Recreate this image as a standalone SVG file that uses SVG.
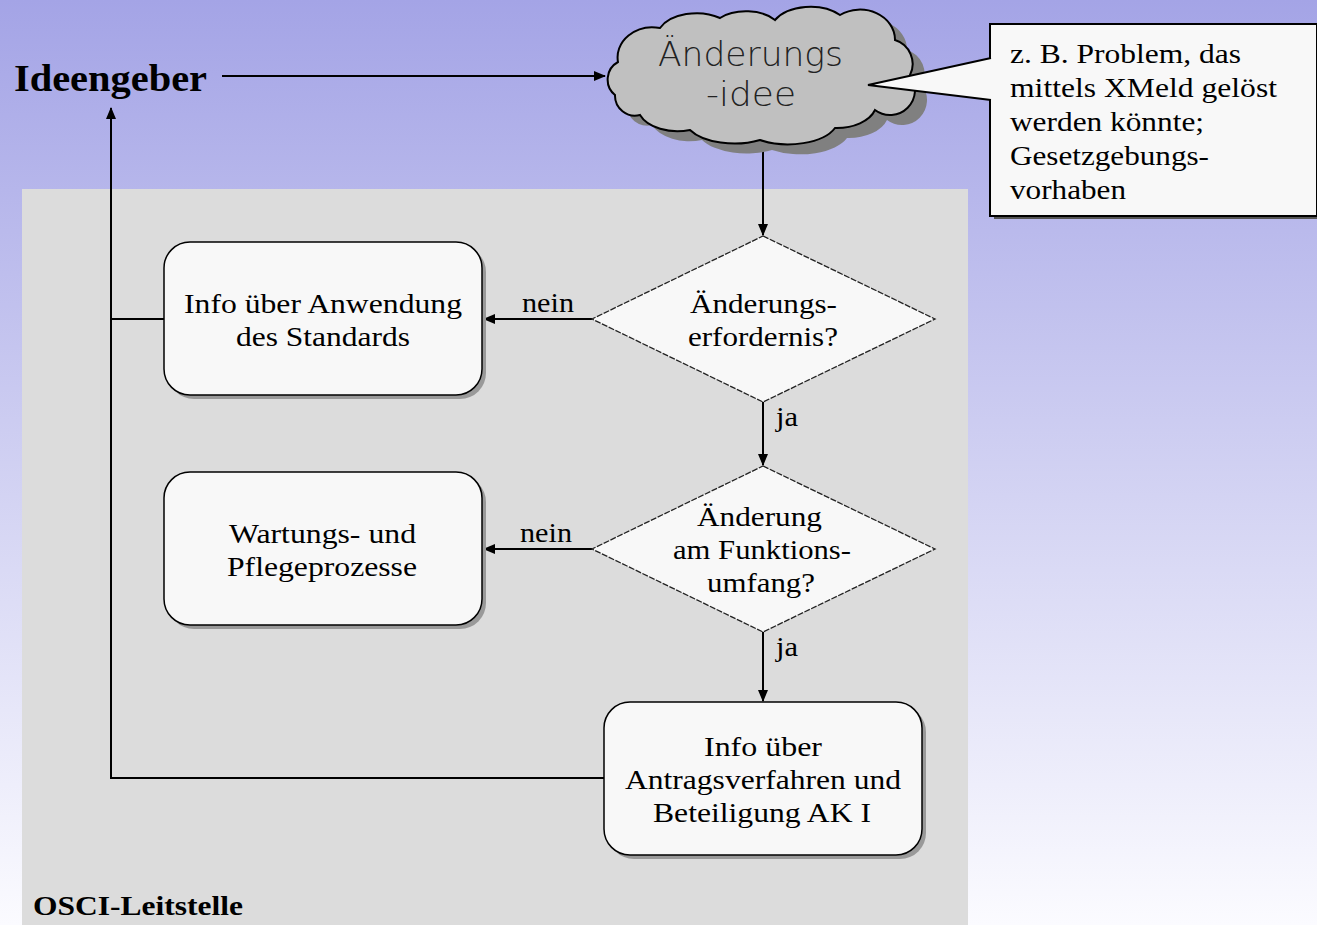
<svg xmlns="http://www.w3.org/2000/svg" width="1317" height="925" viewBox="0 0 1317 925">
<defs>
<linearGradient id="bg" x1="0" y1="0" x2="0" y2="1">
<stop offset="0" stop-color="#a4a4e6"/>
<stop offset="0.5" stop-color="#d0d0f2"/>
<stop offset="1" stop-color="#fbfbff"/>
</linearGradient>
<marker id="ah" markerWidth="12" markerHeight="12" refX="11" refY="6" orient="auto" markerUnits="userSpaceOnUse">
<path d="M0,1 L12,6 L0,11 Z" fill="#000"/>
</marker>
<path id="cloudp" d="M615,95 A20,20 0 0 1 618,62 A35,30 0 0 1 660,28 A40,25 0 0 1 720,18 A35,20 0 0 1 775,20 A40,25 0 0 1 840,15 A35,30 0 0 1 895,40 A25,25 0 0 1 910,75 A25,25 0 0 1 875,110 A40,25 0 0 1 835,128 A50,25 0 0 1 760,140 A50,25 0 0 1 690,130 A40,25 0 0 1 640,115 A20,20 0 0 1 615,95 Z"/>
</defs>
<style>
.box{fill:#f8f8f8;stroke:#000;stroke-width:1.5}
.shadow{fill:#999}
.dia{fill:#f8f8f8;stroke:#222;stroke-width:1.3;stroke-dasharray:6 1.5}
.t{font-family:"Liberation Serif","Times New Roman",serif;font-size:28px;fill:#000}
.c{text-anchor:middle}
.ln{stroke:#000;stroke-width:2;fill:none}
</style>
<rect x="0" y="0" width="1317" height="925" fill="url(#bg)"/>
<rect id="panel" x="22" y="189" width="946" height="736" fill="#dcdcdc"/>

<g id="connectors">
<line class="ln" x1="222" y1="76" x2="605" y2="76" marker-end="url(#ah)"/>
<line class="ln" x1="763" y1="140" x2="763" y2="235" marker-end="url(#ah)"/>
<line class="ln" x1="592" y1="319" x2="484" y2="319" marker-end="url(#ah)"/>
<line class="ln" x1="763" y1="402" x2="763" y2="465" marker-end="url(#ah)"/>
<line class="ln" x1="592" y1="549" x2="484" y2="549" marker-end="url(#ah)"/>
<line class="ln" x1="763" y1="632" x2="763" y2="701" marker-end="url(#ah)"/>
<line class="ln" x1="164" y1="319" x2="111" y2="319"/>
<polyline class="ln" points="604,778 111,778 111,108" marker-end="url(#ah)"/>
<text class="t" x="522" y="312" textLength="52" lengthAdjust="spacingAndGlyphs">nein</text>
<text class="t" x="520" y="542" textLength="52" lengthAdjust="spacingAndGlyphs">nein</text>
<text class="t" x="776" y="426" textLength="22" lengthAdjust="spacingAndGlyphs">ja</text>
<text class="t" x="776" y="656" textLength="22" lengthAdjust="spacingAndGlyphs">ja</text>
</g>

<g id="ideengeber">
<text x="14" y="91" font-family="Liberation Serif,serif" font-weight="bold" font-size="38" fill="#000" textLength="193" lengthAdjust="spacingAndGlyphs">Ideengeber</text>
</g>

<g id="cloud">
<use href="#cloudp" transform="translate(12,10)" fill="#808080"/>
<use href="#cloudp" fill="#c0c0c0" stroke="#000" stroke-width="2"/>
<text x="658" y="66" font-family="DejaVu Sans,Liberation Sans,sans-serif" font-weight="200" font-size="34" fill="#222" textLength="185" lengthAdjust="spacingAndGlyphs">Änderungs</text>
<text x="706" y="106" font-family="DejaVu Sans,Liberation Sans,sans-serif" font-weight="200" font-size="34" fill="#222" textLength="90" lengthAdjust="spacingAndGlyphs">-idee</text>
</g>

<g id="callout">
<rect x="994" y="28" width="325" height="191" fill="#555"/>
<rect x="990" y="24" width="327" height="192" fill="#f8f8f8" stroke="#000" stroke-width="2"/>
<polygon points="868,85 991,58 991,100" fill="#f8f8f8"/>
<polyline points="991,58 868,85 991,100" fill="none" stroke="#000" stroke-width="2"/>
<text class="t" x="1010" y="63" textLength="231" lengthAdjust="spacingAndGlyphs">z. B. Problem, das</text>
<text class="t" x="1010" y="97" textLength="267" lengthAdjust="spacingAndGlyphs">mittels XMeld gelöst</text>
<text class="t" x="1010" y="131" textLength="194" lengthAdjust="spacingAndGlyphs">werden könnte;</text>
<text class="t" x="1010" y="165" textLength="199" lengthAdjust="spacingAndGlyphs">Gesetzgebungs-</text>
<text class="t" x="1010" y="199" textLength="116" lengthAdjust="spacingAndGlyphs">vorhaben</text>
</g>

<g id="box1">
<rect class="shadow" x="168" y="246" width="318" height="153" rx="26"/>
<rect class="box" x="164" y="242" width="318" height="153" rx="26"/>
<text class="t" x="184" y="313" textLength="278" lengthAdjust="spacingAndGlyphs">Info über Anwendung</text>
<text class="t" x="236" y="346" textLength="174" lengthAdjust="spacingAndGlyphs">des Standards</text>
</g>

<g id="box2">
<rect class="shadow" x="168" y="476" width="318" height="153" rx="26"/>
<rect class="box" x="164" y="472" width="318" height="153" rx="26"/>
<text class="t" x="229" y="543" textLength="187" lengthAdjust="spacingAndGlyphs">Wartungs- und</text>
<text class="t" x="227" y="576" textLength="190" lengthAdjust="spacingAndGlyphs">Pflegeprozesse</text>
</g>

<g id="box3">
<rect class="shadow" x="608" y="706" width="318" height="153" rx="26"/>
<rect class="box" x="604" y="702" width="318" height="153" rx="26"/>
<text class="t" x="704" y="756" textLength="118" lengthAdjust="spacingAndGlyphs">Info über</text>
<text class="t" x="625" y="789" textLength="276" lengthAdjust="spacingAndGlyphs">Antragsverfahren und</text>
<text class="t" x="653" y="822" textLength="218" lengthAdjust="spacingAndGlyphs">Beteiligung AK I</text>
</g>

<g id="dia1">
<polygon class="dia" points="763,236 935,319 763,402 592,319"/>
<text class="t" x="690" y="313" textLength="147" lengthAdjust="spacingAndGlyphs">Änderungs-</text>
<text class="t" x="688" y="346" textLength="150" lengthAdjust="spacingAndGlyphs">erfordernis?</text>
</g>

<g id="dia2">
<polygon class="dia" points="763,466 935,549 763,632 592,549"/>
<text class="t" x="697" y="526" textLength="125" lengthAdjust="spacingAndGlyphs">Änderung</text>
<text class="t" x="673" y="559" textLength="178" lengthAdjust="spacingAndGlyphs">am Funktions-</text>
<text class="t" x="707" y="592" textLength="108" lengthAdjust="spacingAndGlyphs">umfang?</text>
</g>

<g id="label">
<text x="33" y="915" font-family="Liberation Serif,serif" font-weight="bold" font-size="27" fill="#000" textLength="210" lengthAdjust="spacingAndGlyphs">OSCI-Leitstelle</text>
</g>
</svg>
